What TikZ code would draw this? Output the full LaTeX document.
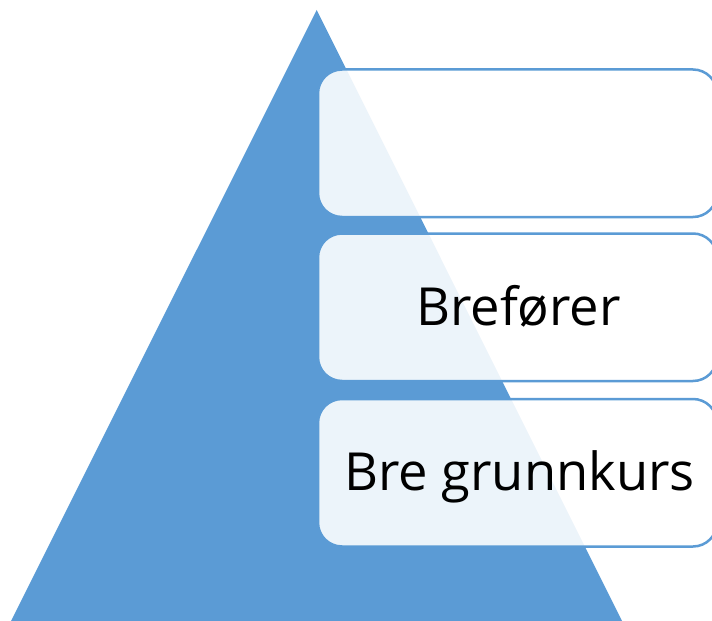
\documentclass[tikz,border=0pt]{standalone}
\usepackage{fontspec}
\setmainfont{Open Sans}
\definecolor{triblue}{HTML}{5B9BD5}
\tikzset{
  tri/.style={fill=triblue, draw=none},
  levelbox/.style={draw=triblue, line width=2.5bp, fill=white, fill opacity=0.89, text opacity=1, rounded corners=24bp},
  leveltext/.style={font=\fontsize{52.5bp}{63bp}\selectfont, text=black, inner sep=0pt, anchor=base}
}
\begin{document}
\begin{tikzpicture}[x=1bp, y=-1bp]
  \useasboundingbox (0,0) rectangle (712,621);
  \clip (0,0) rectangle (712,621);
  \fill[tri] (316.7,10) -- (11,621) -- (622,621) -- cycle;
  \draw[levelbox] (318,69.5) rectangle (717,217);
  \draw[levelbox] (318,233.5) rectangle (717,381);
  \draw[levelbox] (318,399) rectangle (717,546.5);
  \node[leveltext] (b2) at (518.5,325) {Brefører};
  \node[leveltext] (b3) at (519.5,490) {Bre grunnkurs};
\end{tikzpicture}
\end{document}
